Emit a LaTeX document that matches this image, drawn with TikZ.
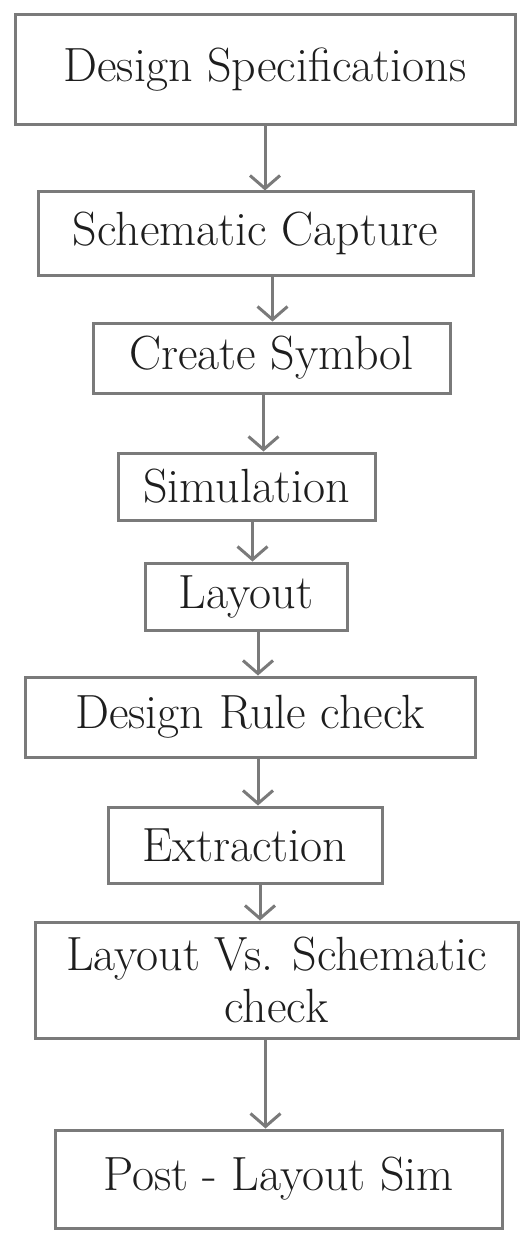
\documentclass[tikz,border=0pt]{standalone}
\usepackage{tikz}
\usetikzlibrary{arrows.meta,positioning}
\definecolor{pencil}{HTML}{7A7A7A}
\definecolor{ink}{HTML}{1E1E1E}

\begin{document}
\begin{tikzpicture}[
  x=1pt, y=-1pt,
  font=\fontsize{48}{52}\selectfont,
  stage/.style={draw=pencil, line width=3pt, text=ink, rectangle, inner sep=2pt, align=center},
  arr/.style={draw=pencil, line width=3pt, -{Straight Barb[length=13pt, width=30pt, line width=3pt]}}
]
\useasboundingbox (0,0) rectangle (524,1233);

\node[stage, minimum width=500pt, minimum height=110pt] (DS)  at (265,70)     {Design Specifications};
\node[stage, minimum width=435pt, minimum height=83pt]  (SC)  at (255.5,233.5) {Schematic Capture};
\node[stage, minimum width=357pt, minimum height=70pt]  (CS)  at (271.5,358)  {Create Symbol};
\node[stage, minimum width=257pt, minimum height=67pt]  (SIM) at (246.5,486.5) {Simulation};
\node[stage, minimum width=202pt, minimum height=67pt]  (LAY) at (246,596.5)  {Layout};
\node[stage, minimum width=450pt, minimum height=80pt]  (DRC) at (250,717)    {Design Rule check};
\node[stage, minimum width=274pt, minimum height=76pt]  (EXT) at (245,845)    {Extraction};
\node[stage, minimum width=483pt, minimum height=116pt] (LVS) at (276.5,980)  {Layout Vs. Schematic\\check};
\node[stage, minimum width=447pt, minimum height=98pt]  (PLS) at (278.5,1179) {Post - Layout Sim};

\draw[arr] (DS.south)  -- (DS.south  |- SC.north);
\draw[arr] ([xshift=17pt]SC.south) -- ([xshift=17pt]SC.south |- CS.north);
\draw[arr] ([xshift=-8pt]CS.south) -- ([xshift=-8pt]CS.south |- SIM.north);
\draw[arr] ([xshift=6pt]SIM.south) -- ([xshift=6pt]SIM.south |- LAY.north);
\draw[arr] ([xshift=12pt]LAY.south) -- ([xshift=12pt]LAY.south |- DRC.north);
\draw[arr] ([xshift=8pt]DRC.south) -- ([xshift=8pt]DRC.south |- EXT.north);
\draw[arr] ([xshift=15pt]EXT.south) -- ([xshift=15pt]EXT.south |- LVS.north);
\draw[arr] ([xshift=-11pt]LVS.south) -- ([xshift=-11pt]LVS.south |- PLS.north);
\end{tikzpicture}
\end{document}
